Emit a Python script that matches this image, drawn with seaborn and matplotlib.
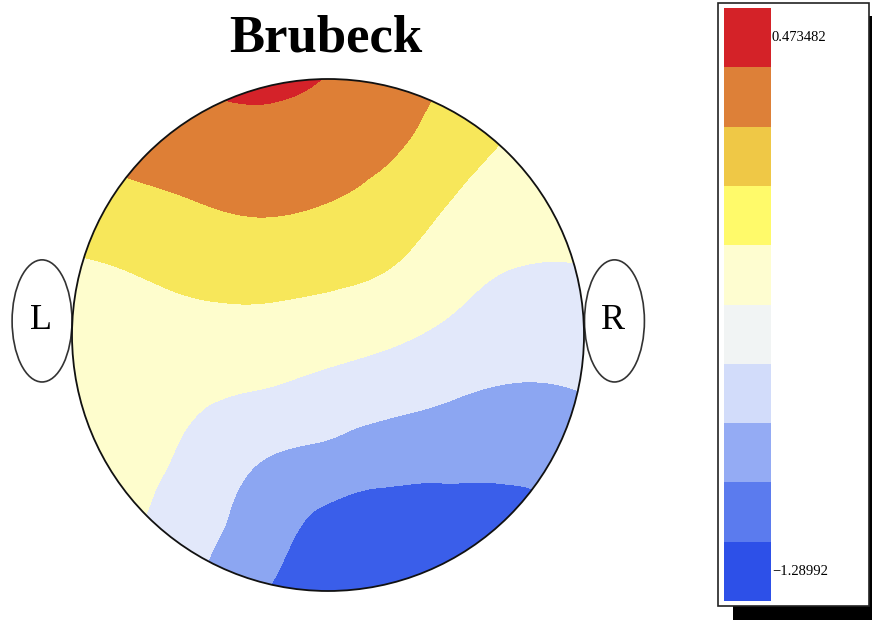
import numpy as np
import matplotlib
matplotlib.use("Agg")
import matplotlib.pyplot as plt
import matplotlib.tri as mtri
from matplotlib.colors import ListedColormap
from matplotlib.patches import Circle, Ellipse, Rectangle
import seaborn as sns

# Chart text
title = "Brubeck"
ear_labels = ["L", "R"]

# Scalp grid (head radius = 1), potential
grid_x = [-1.0, -0.75, -0.5, -0.25, 0.0, 0.25, 0.5, 0.75, 1.0]
grid_y = [1.0, 0.75, 0.5, 0.25, 0.0, -0.25, -0.5, -0.75, -1.0]
row_y100 = [0.21, 0.26, 0.32, 0.36, 0.28, 0.14, -0.02, -0.18, -0.27]
row_y075 = [0.05, 0.11, 0.16, 0.19, 0.14, 0.05, -0.15, -0.30, -0.37]
row_y050 = [-0.13, -0.07, 0.00, 0.04, 0.00, -0.11, -0.30, -0.41, -0.45]
row_y025 = [-0.30, -0.26, -0.19, -0.16, -0.20, -0.28, -0.45, -0.56, -0.56]
row_y000 = [-0.35, -0.34, -0.36, -0.37, -0.42, -0.50, -0.62, -0.71, -0.70]
row_ym025 = [-0.42, -0.42, -0.52, -0.59, -0.67, -0.75, -0.83, -0.87, -0.84]
row_ym050 = [-0.49, -0.49, -0.64, -0.84, -0.93, -1.02, -1.04, -1.04, -0.98]
row_ym075 = [-0.56, -0.54, -0.74, -0.97, -1.19, -1.22, -1.23, -1.21, -1.12]
row_ym100 = [-0.63, -0.64, -0.85, -1.10, -1.26, -1.28, -1.28, -1.25, -1.22]

# Contour bands of the map (low -> high)
map_levels = [-1.6, -1.108, -0.828, -0.548, -0.268, 0.012, 0.292, 0.8]
map_colors = ["#3a5eea", "#8ca6f2", "#e2e8fa", "#fefdcd", "#f7e75a", "#de7f36", "#d42229"]

# Colour scale (top -> bottom)
cbar_values = [0.473482, 0.277548, 0.081614, -0.11432, -0.310254,
               -0.506188, -0.702122, -0.898056, -1.09399, -1.28992]
cbar_colors = ["#d42228", "#dd8038", "#efc846", "#fffa6a", "#fefdd0",
               "#f1f4f4", "#d2dcfa", "#94abf4", "#5b7bee", "#2d50e8"]
cbar_labels = ["0.473482", "\u22121.28992"]

sns.set_theme(style="white")
plt.rcParams["font.family"] = ["Liberation Serif", "DejaVu Serif"]
plt.rcParams["text.color"] = "black"

fig = plt.figure(figsize=(8.72, 6.2), dpi=100)

# Background layer in pixel units: legend box with drop shadow
bg = fig.add_axes([0, 0, 1, 1])
bg.set_xlim(0, 872)
bg.set_ylim(620, 0)
bg.axis("off")
bg.add_patch(Rectangle((733, 16), 160, 620, facecolor="black", edgecolor="none"))
bg.add_patch(Rectangle((718, 3), 151, 603, facecolor="white", edgecolor="#222222", lw=1.2))

# Head layer in head units
ax = fig.add_axes([0, 0, 1, 1])
ax.patch.set_alpha(0)
ax.set_xlim(-1.28125, 2.125)
ax.set_ylim(-1.1133, 1.3086)
ax.axis("off")

gx, gy = np.meshgrid(grid_x, grid_y)
z = np.array([row_y100, row_y075, row_y050, row_y025, row_y000,
              row_ym025, row_ym050, row_ym075, row_ym100])
tri = mtri.Triangulation(gx.ravel(), gy.ravel())
tri_f, z_f = mtri.UniformTriRefiner(tri).refine_field(z.ravel(), subdiv=5)
cs = ax.tricontourf(tri_f, z_f, levels=map_levels, colors=map_colors, antialiased=False)

head = Circle((0, 0), 1.0, facecolor="none", edgecolor="#111111", lw=1.3, zorder=5)
ax.add_patch(head)
cs.set_clip_path(head)

# Ears
for cx, lab in zip([-1.117, 1.119], ear_labels):
    ax.add_patch(Ellipse((cx, 0.055), 0.234, 0.477, facecolor="white",
                         edgecolor="#333333", lw=1.2, zorder=4))
    ax.text(cx - 0.005, 0.055, lab, ha="center", va="center", fontsize=26, zorder=6)

fig.text(326 / 872, 1 - 38 / 620, title, ha="center", va="center",
         fontsize=38, fontweight="bold")

# Colour scale drawn as a one-column heatmap
cax = fig.add_axes([724 / 872, 19 / 620, 47 / 872, 593 / 620])
half = (cbar_values[0] - cbar_values[1]) / 2
sns.heatmap(np.array(cbar_values).reshape(-1, 1), ax=cax,
            cmap=ListedColormap(cbar_colors[::-1]),
            vmin=cbar_values[-1] - half, vmax=cbar_values[0] + half,
            cbar=False, xticklabels=False, yticklabels=False, linewidths=0)
cax.text(1.02, 0.5, cbar_labels[0], ha="left", va="center", fontsize=10.5, clip_on=False)
cax.text(1.02, 9.5, cbar_labels[1], ha="left", va="center", fontsize=10.5, clip_on=False)

fig.savefig("out.png", dpi=100)
